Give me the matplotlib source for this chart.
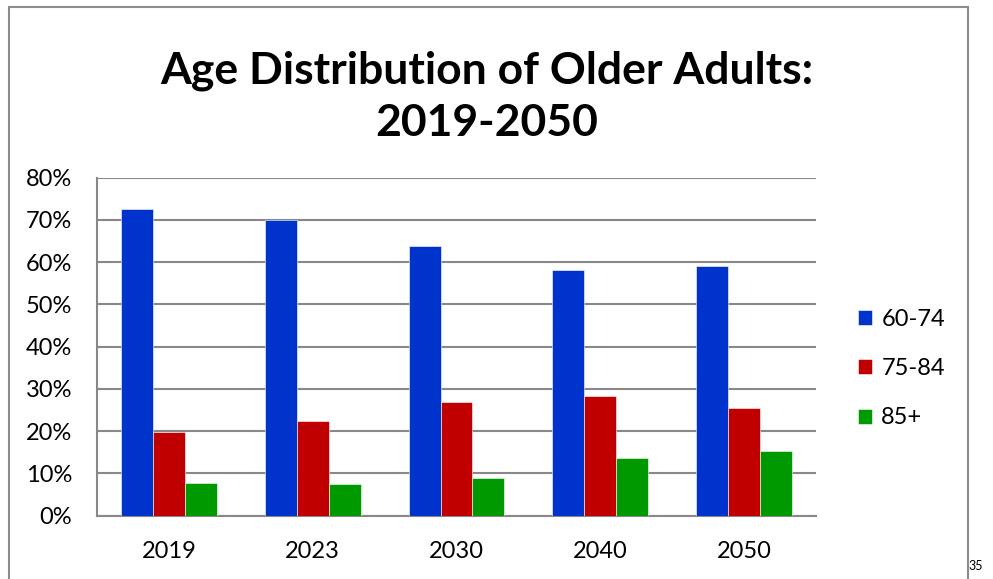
import numpy as np
import matplotlib
matplotlib.use("Agg")
import matplotlib.pyplot as plt
from matplotlib.patches import Rectangle

plt.rcParams['font.family'] = ['Lato', 'DejaVu Sans']

years = ["2019", "2023", "2030", "2040", "2050"]
groups = ["60-74", "75-84", "85+"]
age_60_74 = [72.5, 70.1, 63.9, 58.1, 59.0]
age_75_84 = [19.8, 22.4, 27.0, 28.3, 25.4]
age_85_up = [7.7, 7.5, 8.9, 13.6, 15.3]
colors = ["#0033CC", "#C00000", "#009900"]

fig = plt.figure(figsize=(9.93, 5.79), dpi=100)
ax = fig.add_axes([0.0977, 0.1093, 0.724, 0.5838])

# outer frame around the chart
fig.patches.append(Rectangle((9 / 993, -0.05), 959 / 993, 1.05 - 7 / 579,
                             transform=fig.transFigure, fill=False,
                             edgecolor="#8c8c8c", linewidth=1.5))

x = np.arange(len(years))
w = 0.222
for i, (vals, name) in enumerate(zip([age_60_74, age_75_84, age_85_up], groups)):
    ax.bar(x + (i - 1) * w, vals, w, color=colors[i], label=name,
           edgecolor="white", linewidth=0.4, zorder=3)

ax.set_xlim(-0.5, len(years) - 0.5)
ax.set_ylim(0, 80)
ax.set_yticks(range(0, 81, 10))
ax.set_yticklabels([f"{v}%" for v in range(0, 81, 10)])
ax.set_xticks(x)
ax.set_xticklabels(years)
ax.yaxis.grid(True, color="#888888", linewidth=1.5, zorder=0)
ax.tick_params(axis="both", length=0, labelsize=17, colors="black")
ax.tick_params(axis="y", pad=18)
ax.tick_params(axis="x", pad=18)
for s in ["top", "right"]:
    ax.spines[s].set_visible(False)
for s in ["left", "bottom"]:
    ax.spines[s].set_color("#888888")
    ax.spines[s].set_linewidth(1.5)

fig.text(0.49, 0.833, "Age Distribution of Older Adults:\n2019-2050",
         ha="center", va="center", fontsize=32, fontweight="bold",
         linespacing=1.35)

ax.legend(loc="upper left", bbox_to_anchor=(1.045, 0.64), frameon=False,
          fontsize=17, handlelength=0.6, handleheight=0.6, handletextpad=0.4,
          labelspacing=1.2, borderaxespad=0)

fig.text(0.983, 0.022, "35", ha="center", va="center", fontsize=9)

fig.savefig("out.png", dpi=100)
